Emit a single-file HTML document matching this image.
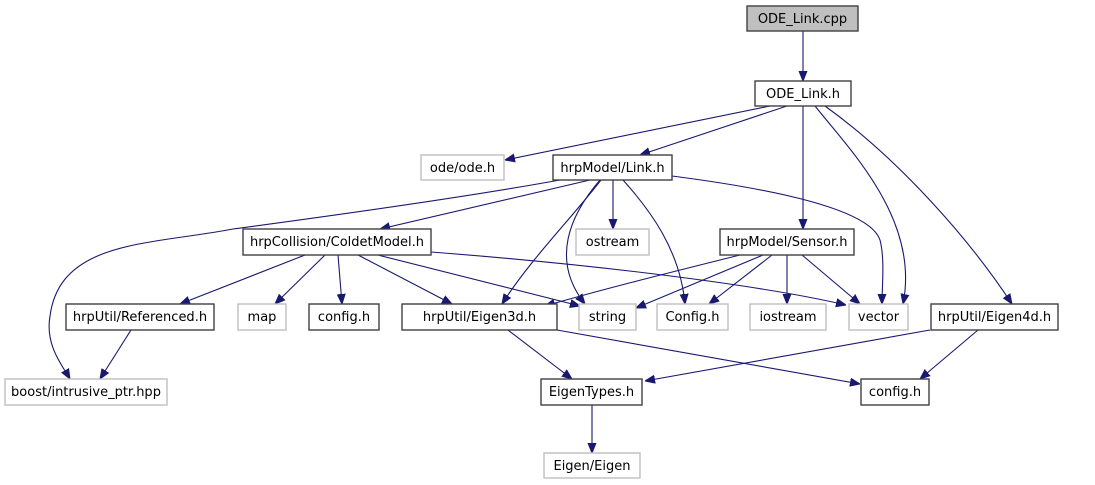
<!DOCTYPE html>
<html><head><meta charset="utf-8"><style>
html,body{margin:0;padding:0;background:#fff;}
svg{display:block;}
text{font-family:"DejaVu Sans","Liberation Sans",sans-serif;font-size:13px;fill:#000;text-anchor:middle;}
.n{fill:#fff;stroke:#404040;stroke-width:1.4;}
.g{fill:#fff;stroke:#bfbfbf;stroke-width:1.4;}
.e{fill:none;stroke:#191970;stroke-width:1.1;}
</style></head><body>
<svg width="1095" height="485" viewBox="0 0 1095 485" xmlns="http://www.w3.org/2000/svg">
<defs><marker id="a" viewBox="0 0 10 10" refX="10" refY="5" markerWidth="10" markerHeight="10" markerUnits="userSpaceOnUse" orient="auto"><path d="M0,1 L10,5 L0,9 z" fill="#191970" stroke="#191970"/></marker></defs>
<g marker-end="url(#a)">
<path class="e" d="M803,31 L803,81"/>
<path class="e" d="M770,106 L505,160"/>
<path class="e" d="M787,106 L640,155"/>
<path class="e" d="M803,106 L803,229"/>
<path class="e" d="M815,106 C850,150 920,220 903,304"/>
<path class="e" d="M825,106 C900,160 970,240 1012,304"/>
<path class="e" d="M560,180 C450,200 300,220 233,229 C150,245 60,240 50,316 C45,345 62,365 70,379"/>
<path class="e" d="M590,180 L380,229"/>
<path class="e" d="M601,180 C570,220 530,260 502,304"/>
<path class="e" d="M600,180 C570,215 550,260 585,304"/>
<path class="e" d="M613,180 L613,229"/>
<path class="e" d="M623,180 C650,210 680,250 685,304"/>
<path class="e" d="M672,176 C780,190 870,210 880,240 C885,260 882,285 882,304"/>
<path class="e" d="M305,255 L180,304"/>
<path class="e" d="M325,255 L275,304"/>
<path class="e" d="M338,255 L342,304"/>
<path class="e" d="M358,255 L452,304"/>
<path class="e" d="M378,255 L580,306"/>
<path class="e" d="M431,252 C600,265 760,285 846,305"/>
<path class="e" d="M740,255 C660,275 600,290 545,306"/>
<path class="e" d="M763,255 L636,308"/>
<path class="e" d="M772,255 L709,304"/>
<path class="e" d="M787,255 L787,304"/>
<path class="e" d="M802,255 L860,304"/>
<path class="e" d="M131,330 L100,379"/>
<path class="e" d="M508,330 L572,379"/>
<path class="e" d="M557,330 L860,384"/>
<path class="e" d="M930,330 L645,381"/>
<path class="e" d="M978,330 L920,379"/>
<path class="e" d="M592,405 L592,453"/>
</g>
<rect x="747" y="6" width="111" height="25" fill="#bfbfbf" stroke="#404040" stroke-width="1.4"/><text x="802.5" y="23">ODE_Link.cpp</text>
<rect class="n" x="755" y="81" width="96" height="25"/><text x="803" y="98">ODE_Link.h</text>
<rect class="g" x="421" y="155" width="83" height="25"/><text x="462.5" y="172">ode/ode.h</text>
<rect class="n" x="553" y="155" width="119" height="25"/><text x="612.5" y="172">hrpModel/Link.h</text>
<rect class="n" x="243" y="229" width="188" height="26"/><text x="337" y="246">hrpCollision/ColdetModel.h</text>
<rect class="g" x="576" y="229" width="73" height="26"/><text x="612.5" y="246">ostream</text>
<rect class="n" x="720" y="229" width="134" height="26"/><text x="787" y="246">hrpModel/Sensor.h</text>
<rect class="n" x="66" y="304" width="148" height="26"/><text x="140" y="321">hrpUtil/Referenced.h</text>
<rect class="g" x="238" y="304" width="48" height="26"/><text x="262" y="321">map</text>
<rect class="n" x="309" y="304" width="70" height="26"/><text x="344" y="321">config.h</text>
<rect class="n" x="402" y="304" width="155" height="26"/><text x="479.5" y="321">hrpUtil/Eigen3d.h</text>
<rect class="g" x="579" y="304" width="57" height="26"/><text x="607.5" y="321">string</text>
<rect class="g" x="657" y="304" width="71" height="26"/><text x="692.5" y="321">Config.h</text>
<rect class="g" x="750" y="304" width="76" height="26"/><text x="788" y="321">iostream</text>
<rect class="g" x="849" y="304" width="59" height="26"/><text x="878.5" y="321">vector</text>
<rect class="n" x="931" y="304" width="127" height="26"/><text x="994.5" y="321">hrpUtil/Eigen4d.h</text>
<rect class="g" x="5" y="379" width="162" height="26"/><text x="86" y="396">boost/intrusive_ptr.hpp</text>
<rect class="n" x="541" y="379" width="101" height="26"/><text x="591.5" y="396">EigenTypes.h</text>
<rect class="n" x="861" y="379" width="68" height="26"/><text x="895" y="396">config.h</text>
<rect class="g" x="544" y="453" width="96" height="25"/><text x="592" y="470">Eigen/Eigen</text>
</svg>
</body></html>
